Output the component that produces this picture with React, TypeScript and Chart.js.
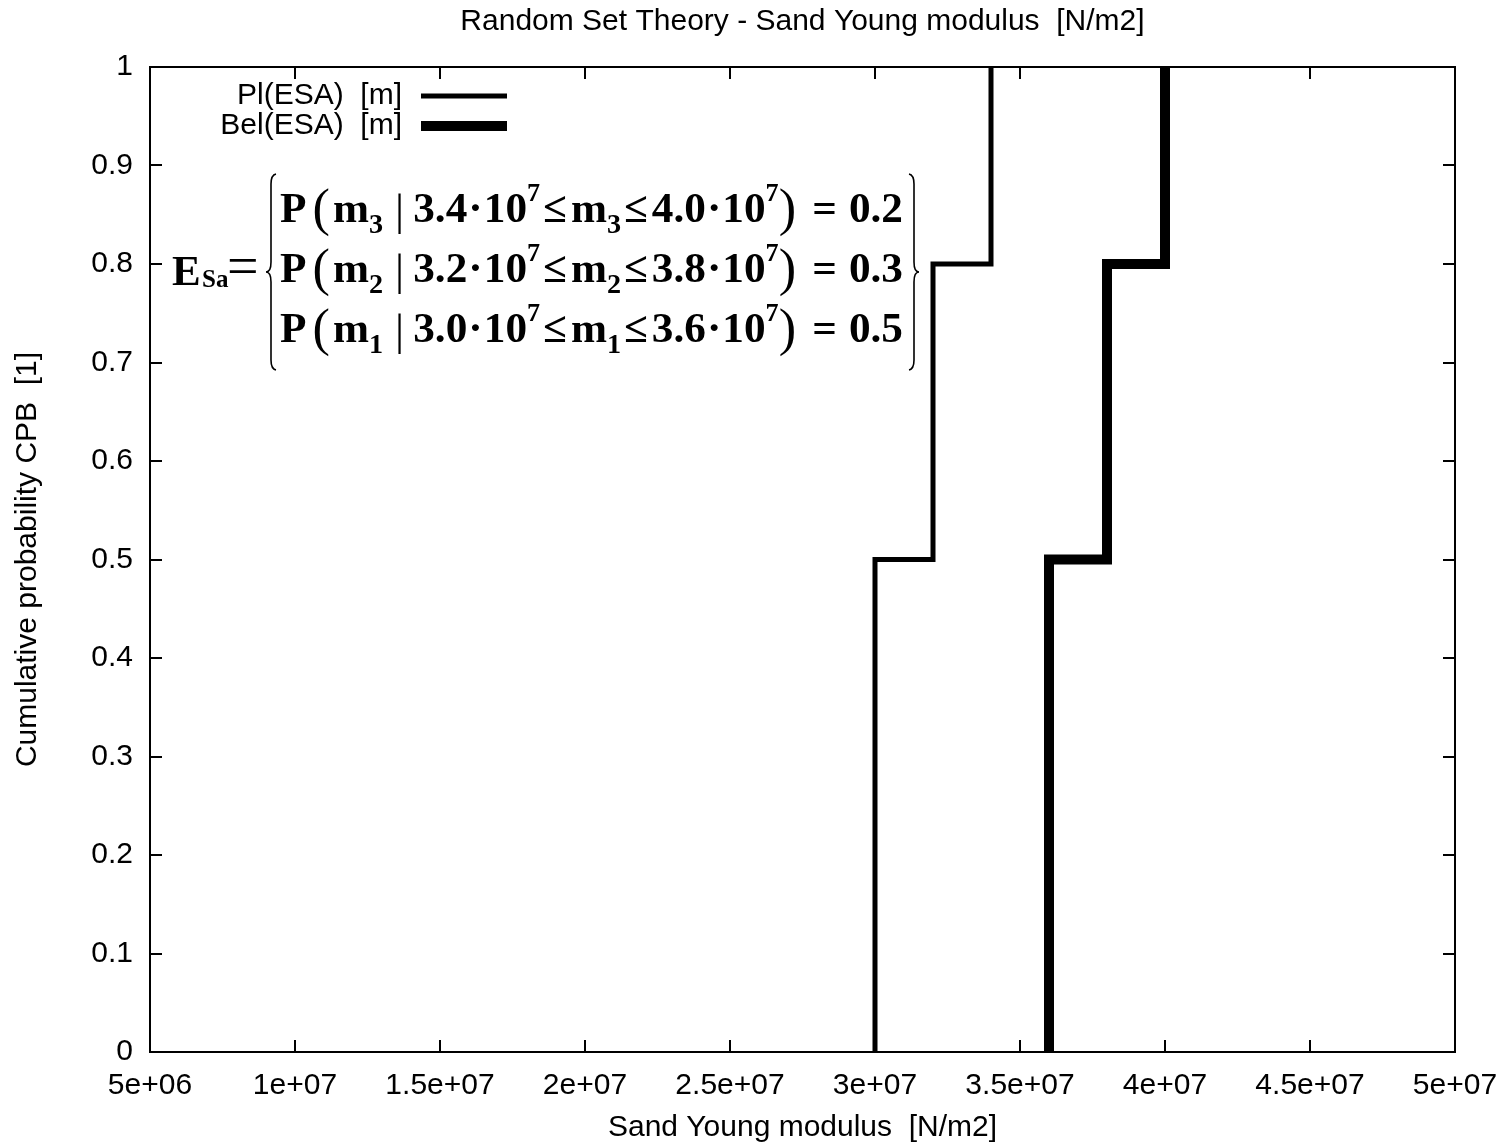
import React, { useEffect, useRef } from 'react';
import { Chart, registerables } from 'chart.js';
Chart.register(...registerables);

// ---- data ----
const plX = [3.0e7, 3.0e7, 3.2e7, 3.2e7, 3.4e7, 3.4e7];
const plY = [0, 0.5, 0.5, 0.8, 0.8, 1.0];
const belX = [3.6e7, 3.6e7, 3.8e7, 3.8e7, 4.0e7, 4.0e7];
const belY = [0, 0.5, 0.5, 0.8, 0.8, 1.0];
const seriesNames = ['Pl(ESA)  [m]', 'Bel(ESA)  [m]'];
const xTicks = [5e6, 1e7, 1.5e7, 2e7, 2.5e7, 3e7, 3.5e7, 4e7, 4.5e7, 5e7];
const xTickLabels = ['5e+06', '1e+07', '1.5e+07', '2e+07', '2.5e+07', '3e+07', '3.5e+07', '4e+07', '4.5e+07', '5e+07'];
const yTicks = [0, 0.1, 0.2, 0.3, 0.4, 0.5, 0.6, 0.7, 0.8, 0.9, 1];
const yTickLabels = ['0', '0.1', '0.2', '0.3', '0.4', '0.5', '0.6', '0.7', '0.8', '0.9', '1'];
const titleText = 'Random Set Theory - Sand Young modulus  [N/m2]';
const xTitle = 'Sand Young modulus  [N/m2]';
const yTitle = 'Cumulative probability CPB  [1]';
const formulaIdx = ['3', '2', '1'];
const formulaLo = ['3.4', '3.2', '3.0'];
const formulaHi = ['4.0', '3.8', '3.6'];
const formulaP = ['0.2', '0.3', '0.5'];

const SANS = '"Liberation Sans", Arial, sans-serif';
const SERIF = '"Liberation Serif", "DejaVu Serif", serif';
const FS = 30;

type Run = { t?: string; k: 'b' | 'sub' | 'sup' | 'paren' | 'bar' | 'gap'; w?: number };

function rowRuns(i: number): Run[] {
  return [
    { t: 'P', k: 'b' }, { k: 'gap', w: 6 }, { t: '(', k: 'paren' }, { k: 'gap', w: 3 },
    { t: 'm', k: 'b' }, { t: formulaIdx[i], k: 'sub' }, { k: 'gap', w: 12 },
    { t: '|', k: 'bar' }, { k: 'gap', w: 9 },
    { t: formulaLo[i], k: 'b' }, { k: 'gap', w: 1 }, { t: '\u00B7', k: 'b' }, { k: 'gap', w: 1 }, { t: '10', k: 'b' }, { t: '7', k: 'sup' },
    { k: 'gap', w: 3 }, { t: '\u2264', k: 'b' }, { k: 'gap', w: 4 }, { t: 'm', k: 'b' }, { t: formulaIdx[i], k: 'sub' },
    { k: 'gap', w: 3 }, { t: '\u2264', k: 'b' }, { k: 'gap', w: 4 }, { t: formulaHi[i], k: 'b' }, { k: 'gap', w: 1 }, { t: '\u00B7', k: 'b' }, { k: 'gap', w: 1 },
    { t: '10', k: 'b' }, { t: '7', k: 'sup' },
    { t: ')', k: 'paren' }, { k: 'gap', w: 16 }, { t: '=', k: 'b' }, { k: 'gap', w: 12 }, { t: formulaP[i], k: 'b' },
  ];
}

const F = 43;
function runFont(k: string) {
  if (k === 'sub') return `bold ${Math.round(F * 0.64)}px ${SERIF}`;
  if (k === 'sup') return `bold ${Math.round(F * 0.6)}px ${SERIF}`;
  if (k === 'paren') return `${Math.round(F * 1.2)}px ${SERIF}`;
  if (k === 'bar') return `${Math.round(F * 1.05)}px ${SERIF}`;
  return `bold ${F}px ${SERIF}`;
}
function runDy(k: string) {
  if (k === 'sub') return F * 0.25;
  if (k === 'sup') return -F * 0.5;
  if (k === 'paren') return 3;
  if (k === 'bar') return 3;
  return 0;
}
function runWidth(ctx: CanvasRenderingContext2D, r: Run) {
  if (r.k === 'gap') return r.w || 0;
  ctx.font = runFont(r.k);
  return ctx.measureText(r.t || '').width;
}

function drawRow(ctx: CanvasRenderingContext2D, i: number, x0: number, x1: number, baseline: number) {
  const runs = rowRuns(i);
  let total = 0;
  runs.forEach((r) => (total += runWidth(ctx, r)));
  const sx = (x1 - x0) / total;
  ctx.save();
  ctx.translate(x0, baseline);
  ctx.scale(sx, 1);
  ctx.textAlign = 'left';
  ctx.textBaseline = 'alphabetic';
  let x = 0;
  runs.forEach((r) => {
    const w = runWidth(ctx, r);
    if (r.k !== 'gap') {
      ctx.font = runFont(r.k);
      ctx.fillText(r.t || '', x, runDy(r.k));
    }
    x += w;
  });
  ctx.restore();
}

function drawBrace(ctx: CanvasRenderingContext2D, xTip: number, xEnd: number, y0: number, y1: number) {
  const xm = (xTip + xEnd) / 2;
  const ym = (y0 + y1) / 2;
  const c = 10;
  ctx.beginPath();
  ctx.moveTo(xEnd, y0);
  ctx.quadraticCurveTo(xm, y0 + 1, xm, y0 + c);
  ctx.lineTo(xm, ym - c);
  ctx.quadraticCurveTo(xm, ym, xTip, ym);
  ctx.quadraticCurveTo(xm, ym, xm, ym + c);
  ctx.lineTo(xm, y1 - c);
  ctx.quadraticCurveTo(xm, y1 - 1, xEnd, y1);
  ctx.stroke();
}

const decor = {
  id: 'decor',
  beforeDatasetsDraw(chart: any) {
    const { ctx, chartArea: a, scales } = chart;
    ctx.save();
    ctx.strokeStyle = '#000';
    ctx.lineWidth = 2;
    ctx.strokeRect(a.left, a.top, a.right - a.left, a.bottom - a.top);
    const tl = 12;
    ctx.beginPath();
    xTicks.forEach((v) => {
      const px = Math.round(scales.x.getPixelForValue(v));
      ctx.moveTo(px, a.bottom);
      ctx.lineTo(px, a.bottom - tl);
      ctx.moveTo(px, a.top);
      ctx.lineTo(px, a.top + tl);
    });
    yTicks.forEach((v) => {
      const py = Math.round(scales.y.getPixelForValue(v));
      ctx.moveTo(a.left, py);
      ctx.lineTo(a.left + tl, py);
      ctx.moveTo(a.right, py);
      ctx.lineTo(a.right - tl, py);
    });
    ctx.stroke();
    ctx.restore();
  },
  afterDraw(chart: any) {
    const { ctx, chartArea: a } = chart;
    ctx.save();
    ctx.fillStyle = '#000';
    ctx.strokeStyle = '#000';
    // titles
    ctx.font = `${FS}px ${SANS}`;
    ctx.textAlign = 'center';
    ctx.textBaseline = 'middle';
    const cx = (a.left + a.right) / 2;
    ctx.fillText(titleText, cx, 22);
    ctx.fillText(xTitle, cx, 1128);
    ctx.save();
    ctx.translate(28, (a.top + a.bottom) / 2);
    ctx.rotate(-Math.PI / 2);
    ctx.fillText(yTitle, 0, 0);
    ctx.restore();
    // legend
    ctx.textAlign = 'right';
    const legY = [96, 126];
    const legW = [5, 10];
    seriesNames.forEach((n, i) => {
      ctx.fillText(n, 402, legY[i]);
      ctx.lineWidth = legW[i];
      ctx.lineCap = 'butt';
      ctx.beginPath();
      ctx.moveTo(421, legY[i]);
      ctx.lineTo(507, legY[i]);
      ctx.stroke();
    });
    // formula
    ctx.textAlign = 'left';
    ctx.textBaseline = 'alphabetic';
    ctx.font = `bold ${F}px ${SERIF}`;
    ctx.fillText('E', 172, 285);
    ctx.font = `bold ${Math.round(F * 0.58)}px ${SERIF}`;
    ctx.fillText('Sa', 202, 287);
    ctx.font = `56px ${SERIF}`;
    ctx.fillText('=', 227, 285);
    ctx.lineWidth = 1.6;
    drawBrace(ctx, 266, 276, 174, 370);
    drawBrace(ctx, 919, 909, 174, 370);
    const baselines = [222, 282, 342];
    baselines.forEach((b, i) => drawRow(ctx, i, 280, 903, b));
    ctx.restore();
  },
};

export default function App() {
  const ref = useRef<HTMLCanvasElement>(null);
  useEffect(() => {
    document.body.style.margin = '0';
    const chart = new Chart(ref.current as HTMLCanvasElement, {
      type: 'scatter',
      data: {
        datasets: [
          {
            label: seriesNames[0],
            data: plX.map((x, i) => ({ x, y: plY[i] })),
            showLine: true,
            borderColor: '#000',
            backgroundColor: '#000',
            borderWidth: 5,
            pointRadius: 0,
            borderCapStyle: 'butt',
            borderJoinStyle: 'miter',
          },
          {
            label: seriesNames[1],
            data: belX.map((x, i) => ({ x, y: belY[i] })),
            showLine: true,
            borderColor: '#000',
            backgroundColor: '#000',
            borderWidth: 10,
            pointRadius: 0,
            borderCapStyle: 'butt',
            borderJoinStyle: 'miter',
          },
        ],
      },
      options: {
        animation: false,
        responsive: false,
        devicePixelRatio: 1,
        layout: { padding: { top: 67, right: 57, left: 0, bottom: 0 } },
        plugins: { legend: { display: false }, title: { display: false }, tooltip: { enabled: false } },
        scales: {
          x: {
            type: 'linear',
            min: 5e6,
            max: 5e7,
            grid: { display: false, drawTicks: false },
            border: { display: false },
            afterBuildTicks: (s: any) => { s.ticks = xTicks.map((v) => ({ value: v })); },
            afterFit: (s: any) => { s.height = 95; s.paddingLeft = 0; s.paddingRight = 0; },
            ticks: {
              autoSkip: false,
              maxRotation: 0,
              padding: 16,
              color: '#000',
              font: { family: SANS, size: FS },
              callback: (_v: any, i: number) => xTickLabels[i],
            },
          },
          y: {
            type: 'linear',
            min: 0,
            max: 1,
            grid: { display: false, drawTicks: false },
            border: { display: false },
            afterBuildTicks: (s: any) => { s.ticks = yTicks.map((v) => ({ value: v })); },
            afterFit: (s: any) => { s.width = 150; s.paddingTop = 0; s.paddingBottom = 0; },
            ticks: {
              autoSkip: false,
              padding: 17,
              color: '#000',
              font: { family: SANS, size: FS },
              callback: (_v: any, i: number) => yTickLabels[i],
            },
          },
        },
      },
      plugins: [decor],
    } as any);
    return () => chart.destroy();
  }, []);
  return (
    <div style={{ width: 1512, height: 1147, background: '#fff' }}>
      <canvas ref={ref} width={1512} height={1147} style={{ display: 'block' }} />
    </div>
  );
}
